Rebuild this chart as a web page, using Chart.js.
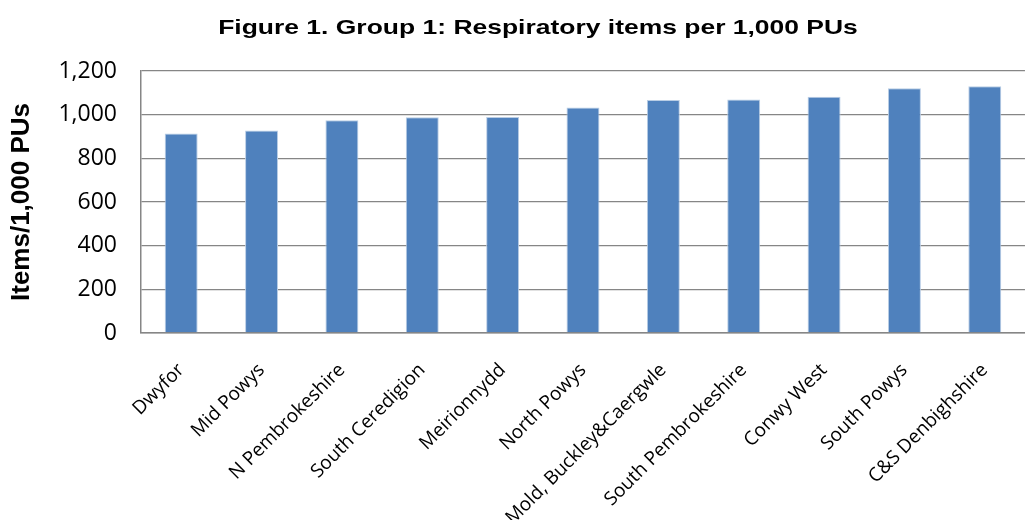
<!DOCTYPE html>
<html>
<head>
<meta charset="utf-8">
<script src="https://cdn.jsdelivr.net/npm/chart.js@4"></script>
<style>
  html, body { margin: 0; padding: 0; background: #fff; }
  #wrap { width: 1027px; height: 520px; }
</style>
</head>
<body>
<div id="wrap"><canvas id="chart" width="1027" height="520"></canvas></div>
<script>
const TITLE = "Figure 1. Group 1: Respiratory items per 1,000 PUs";
const Y_TITLE = "Items/1,000 PUs";
const CATEGORIES = ["Dwyfor", "Mid Powys", "N Pembrokeshire", "South Ceredigion", "Meirionnydd", "North Powys",
  "Mold, Buckley&Caergwle", "South Pembrokeshire", "Conwy West", "South Powys", "C&S Denbighshire"];
const VALUES = [914, 928, 975, 988, 989, 1033, 1067, 1070, 1082, 1121, 1130];
const Y_MIN = 0, Y_MAX = 1200, Y_STEP = 200;

const GRID = "#868686";

// the original export looks stretched sideways, so the title is drawn a bit wide to match
const titlePlugin = {
  id: "figTitle",
  afterDraw(chart) {
    const c = chart.ctx;
    c.save();
    c.font = "bold 21px 'Liberation Sans', Arial, sans-serif";
    c.fillStyle = "#000";
    c.textAlign = "center";
    c.textBaseline = "middle";
    c.translate(538, 28);
    c.scale(1.26, 1);
    c.fillText(TITLE, 0, 0);
    c.restore();
  }
};

new Chart(document.getElementById("chart").getContext("2d"), {
  type: "bar",
  data: {
    labels: CATEGORIES,
    datasets: [{
      data: VALUES,
      backgroundColor: "#4f81bd",
      borderColor: "#b9cde5",
      borderWidth: 1,
      categoryPercentage: 1,
      barPercentage: 0.41,
    }],
  },
  options: {
    responsive: false,
    animation: false,
    layout: { padding: { top: 71, right: 2, left: 6, bottom: 0 } },
    plugins: { legend: { display: false }, tooltip: { enabled: false } },
    scales: {
      x: {
        grid: { display: false, drawTicks: false },
        border: { display: true, color: GRID, width: 1.5 },
        ticks: {
          color: "#000", minRotation: 45, maxRotation: 45, autoSkip: false, padding: 26,
          font: { family: "'Open Sans', sans-serif", size: 19 },
        },
        afterFit(s) { s.height = 187; },
      },
      y: {
        min: Y_MIN, max: Y_MAX,
        grid: { color: GRID, lineWidth: 1.3, drawTicks: false },
        border: { display: true, color: GRID, width: 1.5 },
        ticks: {
          stepSize: Y_STEP, color: "#000", padding: 24,
          font: { family: "'Open Sans', sans-serif", size: 23 },
          callback: v => v.toLocaleString("en-US"),
        },
        title: {
          display: true, text: Y_TITLE, color: "#000", padding: 0,
          font: { family: "'Liberation Sans', Arial, sans-serif", size: 26, weight: "bold" },
        },
        afterFit(s) { s.width = 135; },
      },
    },
  },
  plugins: [titlePlugin],
});
</script>
</body>
</html>
